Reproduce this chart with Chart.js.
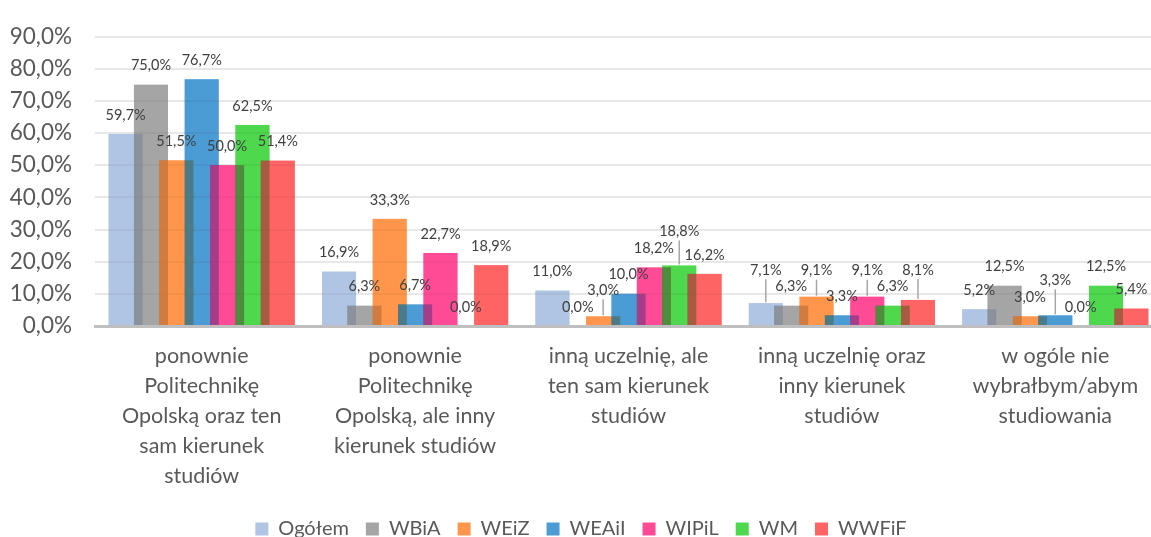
<!DOCTYPE html>
<html lang="pl">
<head>
<meta charset="utf-8">
<title>Wybór studiów</title>
<script src="https://cdn.jsdelivr.net/npm/chart.js@4.4.1/dist/chart.umd.min.js"></script>
<style>
    html, body { margin: 0; padding: 0; background: #ffffff; overflow: hidden; }
    #wrap { width: 1162px; height: 549px; position: relative; }
</style>
</head>
<body>
<div id="wrap"><canvas id="choiceChart"></canvas></div>
<script>
// ── DATA ──────────────────────────────────────────────────────
const categories = [
    ['ponownie', 'Politechnikę', 'Opolską oraz ten', 'sam kierunek', 'studiów'],
    ['ponownie', 'Politechnikę', 'Opolską, ale inny', 'kierunek studiów'],
    ['inną uczelnię, ale', 'ten sam kierunek', 'studiów'],
    ['inną uczelnię oraz', 'inny kierunek', 'studiów'],
    ['w ogóle nie', 'wybrałbym/abym', 'studiowania'],
];

const seriesNames = ['Ogółem', 'WBiA', 'WEiZ', 'WEAiI', 'WIPiL', 'WM', 'WWFiF'];

const ogolem = [59.7, 16.9, 11.0, 7.1, 5.2];
const wbia   = [75.0, 6.3, 0.0, 6.3, 12.5];
const weiz   = [51.5, 33.3, 3.0, 9.1, 3.0];
const weaii  = [76.7, 6.7, 10.0, 3.3, 3.3];
const wipil  = [50.0, 22.7, 18.2, 9.1, 0.0];
const wm     = [62.5, 0.0, 18.8, 6.3, 12.5];
const wwfif  = [51.4, 18.9, 16.2, 8.1, 5.4];

const yTicks = [0, 10, 20, 30, 40, 50, 60, 70, 80, 90];

const seriesValues = [ogolem, wbia, weiz, weaii, wipil, wm, wwfif];
const seriesColors = ['#b0c4e4', '#a5a5a5', '#ff964b', '#4b9bd4', '#ff4b96', '#4ed84e', '#ff6464'];

// ── HELPERS ───────────────────────────────────────────────────
const FONT = 'Lato, "Open Sans", sans-serif';

function pct(v) {
    return v.toFixed(1).replace('.', ',') + '%';
}

function withAlpha(hex, a) {
    const n = parseInt(hex.slice(1), 16);
    return 'rgba(' + (n >> 16) + ',' + ((n >> 8) & 255) + ',' + (n & 255) + ',' + a + ')';
}

// Bars overlap, and each series to the right sits on top of its left neighbour.
// Chart.js draws the first dataset last, so the bars are painted here instead:
// a multiply pass, then a half-transparent pass, so a bar keeps its colour on
// white but darkens where it covers the neighbour.
const overlapBars = {
    id: 'overlapBars',
    beforeDatasetsDraw(chart) {
        const ctx = chart.ctx;
        const area = chart.chartArea;
        ctx.save();
        ctx.beginPath();
        ctx.rect(area.left, area.top, area.right - area.left, area.bottom - area.top);
        ctx.clip();
        seriesValues.forEach(function (_, i) {
            const bars = chart.getDatasetMeta(i).data;
            [['multiply', seriesColors[i]], ['source-over', withAlpha(seriesColors[i], 0.5)]]
                .forEach(function (pass) {
                    ctx.globalCompositeOperation = pass[0];
                    ctx.fillStyle = pass[1];
                    bars.forEach(function (bar) {
                        const p = bar.getProps(['x', 'y', 'base', 'width'], true);
                        const h = Math.abs(p.base - p.y);
                        if (h > 0) ctx.fillRect(p.x - p.width / 2, Math.min(p.y, p.base), p.width, h);
                    });
                });
        });
        ctx.restore();
    },
    beforeDatasetDraw() {
        return false; // bars already painted above
    },
};

// Value labels above bars. Lowest bars are labelled first; a label that would
// collide with one already placed is lifted and gets a leader line.
const barLabels = {
    id: 'barLabels',
    afterDatasetsDraw(chart) {
        const ctx = chart.ctx;
        ctx.save();
        ctx.font = '14.5px ' + FONT;
        ctx.textAlign = 'center';
        ctx.textBaseline = 'middle';
        const boxH = 16;

        categories.forEach(function (_, j) {
            const placed = [];
            const idx = seriesValues.map(function (_, i) { return i; })
                .sort(function (a, b) { return seriesValues[a][j] - seriesValues[b][j] || a - b; });

            idx.forEach(function (i) {
                const bar = chart.getDatasetMeta(i).data[j];
                const text = pct(seriesValues[i][j]);
                const w = ctx.measureText(text).width - 4;
                const start = bar.y - 19;
                let cy = start;
                const hits = function () {
                    return placed.some(function (b) {
                        return Math.abs(b.x - bar.x) < (b.w + w) / 2 &&
                               Math.abs(b.y - cy) < boxH;
                    });
                };
                while (hits()) cy -= 1;
                placed.push({ x: bar.x, y: cy, w: w });

                if (start - cy > 4) {
                    ctx.strokeStyle = '#a6a6a6';
                    ctx.lineWidth = 1.5;
                    ctx.beginPath();
                    ctx.moveTo(bar.x, cy + 9);
                    ctx.lineTo(bar.x, bar.y - 1);
                    ctx.stroke();
                }
                ctx.fillStyle = '#404040';
                ctx.fillText(text, bar.x, cy);
            });
        });
        ctx.restore();
    },
};

// ── CHART ─────────────────────────────────────────────────────
const ctx = document.getElementById('choiceChart').getContext('2d');

new Chart(ctx, {
    type: 'bar',
    data: {
        labels: categories,
        datasets: seriesNames.map(function (name, i) {
            return {
                label: name,
                data: seriesValues[i],
                backgroundColor: seriesColors[i],
                borderWidth: 0,
                categoryPercentage: 0.832,
                barPercentage: 1.342,
            };
        }),
    },
    options: {
        responsive: true,
        maintainAspectRatio: false,
        devicePixelRatio: 1,
        animation: false,
        layout: { padding: { top: 23, right: 0, left: 0, bottom: 0 } },
        plugins: {
            tooltip: { enabled: false },
            legend: {
                position: 'bottom',
                labels: {
                    color: '#595959',
                    font: { family: FONT, size: 20 },
                    boxWidth: 13,
                    boxHeight: 13,
                    padding: 17,
                },
            },
        },
        scales: {
            x: {
                grid: { display: false, drawTicks: false },
                border: { display: true, color: '#bfbfbf', width: 3 },
                ticks: {
                    color: '#595959',
                    font: { family: FONT, size: 21.5, lineHeight: '30px' },
                    padding: 15,
                    maxRotation: 0,
                    autoSkip: false,
                },
                afterFit(scale) { scale.height = 176; },
            },
            y: {
                min: 0,
                max: 90,
                afterBuildTicks(scale) {
                    scale.ticks = yTicks.map(function (v) { return { value: v }; });
                },
                grid: {
                    drawTicks: false,
                    lineWidth: 2,
                    color(c) { return c.tick.value === 0 ? 'rgba(0,0,0,0)' : '#e8e8e8'; },
                },
                border: { display: false },
                ticks: {
                    color: '#595959',
                    font: { family: FONT, size: 22.5 },
                    padding: 23,
                    callback(v) { return pct(v); },
                },
                afterFit(scale) { scale.width = 95; },
            },
        },
    },
    plugins: [overlapBars, barLabels],
});
</script>
</body>
</html>
